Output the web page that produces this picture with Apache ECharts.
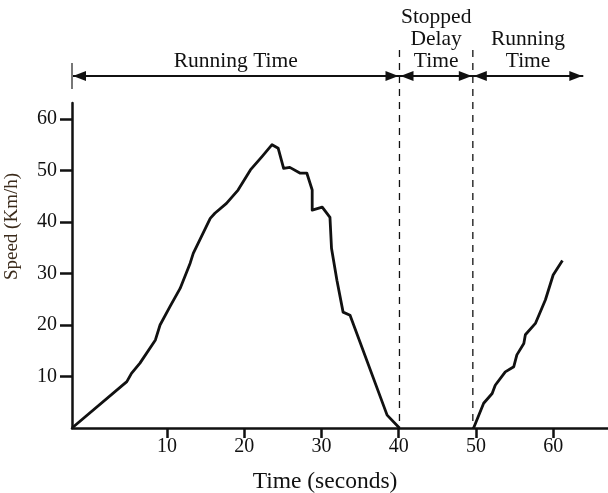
<!DOCTYPE html>
<html><head><meta charset="utf-8">
<script src="https://cdn.jsdelivr.net/npm/echarts@6/dist/echarts.min.js"></script>
<style>html,body{margin:0;padding:0;background:#fff}#c{width:608px;height:493px}</style>
</head><body><div id="c"></div>
<script>
// ---- data ----
const xTicks = [10, 20, 30, 40, 50, 60];
const yTicks = [10, 20, 30, 40, 50, 60];
const run1Time  = [-2.3, 4.8, 5.4, 6.5, 8.5, 9.1, 10.4, 11.7, 13.0, 13.4, 15.6, 16.2, 17.7, 19.2, 20.8, 22.3, 23.6, 24.4, 25.1, 25.9, 27.2, 28.1, 28.8, 28.8, 30.1, 31.1, 31.3, 32.0, 32.8, 33.7, 38.5, 40.1];
const run1Speed = [0, 9.0, 10.6, 12.6, 17.1, 20.0, 23.6, 27.1, 32.0, 33.9, 40.7, 41.7, 43.6, 46.2, 50.1, 52.7, 55.0, 54.3, 50.4, 50.6, 49.5, 49.5, 46.2, 42.3, 42.9, 40.9, 34.9, 28.7, 22.5, 21.9, 2.5, 0];
const run2Time  = [49.7, 51.0, 52.1, 52.5, 53.8, 54.9, 55.3, 56.2, 56.4, 57.7, 59.0, 60.0, 61.2];
const run2Speed = [0, 4.8, 6.7, 8.3, 10.9, 11.9, 14.2, 16.4, 18.1, 20.3, 24.9, 29.7, 32.5];
const phaseEdges = [-2.3, 40.1, 49.6, 63.9];   // start, stop begins, stop ends, arrow end
const phaseLabels = [["Running Time"], ["Stopped", "Delay", "Time"], ["Running", "Time"]];
const xTitle = "Time (seconds)";
const yTitle = "Speed (Km/h)";

const FONT = "'Liberation Serif', 'DejaVu Serif', serif";
const INK = "#111";
const zip = (a, b) => a.map((v, i) => [v, b[i]]);

const chart = echarts.init(document.getElementById('c'), null, {renderer: 'canvas'});
chart.setOption({
  animation: false,
  backgroundColor: '#fff',
  grid: {left: 72, right: 0, top: 103, bottom: 65, containLabel: false, outerBoundsMode: 'none'},
  xAxis: {
    type: 'value', min: -2.3, max: 67.1,
    splitLine: {show: false},
    axisLine: {show: true, onZero: false, lineStyle: {color: INK, width: 2.5}},
    axisTick: {show: true, customValues: xTicks, length: 10, inside: false, lineStyle: {color: INK, width: 2.5}},
    axisLabel: {customValues: xTicks, color: INK, fontFamily: FONT, fontSize: 20, margin: 9},
    name: xTitle, nameLocation: 'middle', nameGap: 42,
    nameTextStyle: {color: INK, fontFamily: FONT, fontSize: 23.5, padding: [0, 30, 0, 0]}
  },
  yAxis: {
    type: 'value', min: 0, max: 63.1,
    splitLine: {show: false},
    axisLine: {show: true, onZero: false, lineStyle: {color: INK, width: 2.5}},
    axisTick: {show: true, customValues: yTicks, length: 12, inside: false, lineStyle: {color: INK, width: 2.5}},
    axisLabel: {customValues: yTicks, color: INK, fontFamily: FONT, fontSize: 20, margin: 15},
    name: yTitle, nameLocation: 'middle', nameGap: 50, nameRotate: 90,
    nameTextStyle: {color: '#3a2a1a', fontFamily: FONT, fontSize: 19, padding: [0, 0, 0, 78]}
  },
  series: [
    {type: 'line', data: zip(run1Time, run1Speed), showSymbol: false, symbol: 'none', clip: false,
     lineStyle: {color: INK, width: 2.8, join: 'round'}},
    {type: 'line', data: zip(run2Time, run2Speed), showSymbol: false, symbol: 'none', clip: false,
     lineStyle: {color: INK, width: 2.8, join: 'round'}}
  ]
});

// ---- annotations above the plot ----
const px = phaseEdges.map(v => chart.convertToPixel({xAxisIndex: 0}, v));
const yBase = chart.convertToPixel({yAxisIndex: 0}, 0);
const arrowY = 76, dashTop = 50, AL = 13, AW = 5;
const els = [];
function head(tipX, dir) { // dir: +1 points right, -1 points left
  els.push({type: 'polygon', shape: {points: [[tipX, arrowY], [tipX - dir * AL, arrowY - AW], [tipX - dir * AL, arrowY + AW]]},
            style: {fill: INK}});
}
els.push({type: 'line', shape: {x1: px[0], y1: arrowY, x2: px[3], y2: arrowY}, style: {stroke: INK, lineWidth: 1.8}});
els.push({type: 'line', shape: {x1: px[0], y1: arrowY - 13, x2: px[0], y2: arrowY + 13}, style: {stroke: '#777', lineWidth: 2}});
for (let i = 0; i < 3; i++) { head(px[i] + 1, -1); head(px[i + 1] - 1, 1); }
[1, 2].forEach(i => els.push({type: 'line', shape: {x1: px[i], y1: dashTop, x2: px[i], y2: yBase},
  style: {stroke: INK, lineWidth: 1.3, lineDash: [7, 6]}}));
phaseLabels.forEach((lines, i) => {
  const cx = (px[i] + px[i + 1]) / 2;
  const lh = 22;
  lines.forEach((t, k) => {
    const yy = arrowY - 15 - (lines.length - 1 - k) * lh;
    els.push({type: 'text', style: {text: t, x: cx, y: yy, align: 'center', verticalAlign: 'middle',
      font: "21.5px " + FONT, fill: INK}});
  });
});
chart.setOption({graphic: {elements: els}});
</script>
</body></html>
